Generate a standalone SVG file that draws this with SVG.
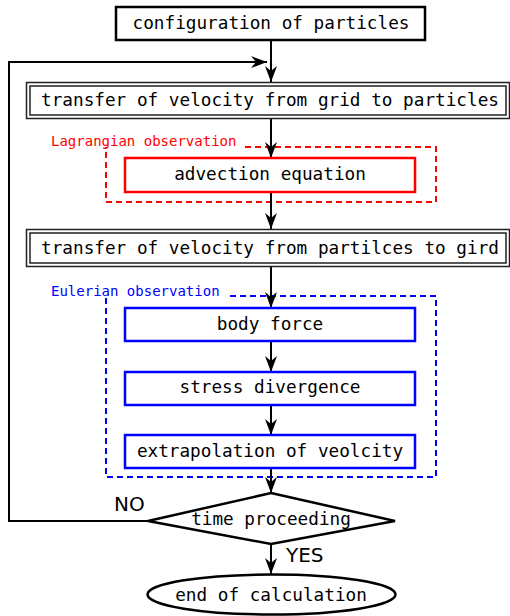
<svg xmlns="http://www.w3.org/2000/svg" width="510" height="616" viewBox="0 0 510 616">
<style>
text{font-family:"DejaVu Sans Mono","Liberation Mono",monospace;fill:#000;text-anchor:middle}
.t{font-size:17.7px}
.lbl{font-size:14px;text-anchor:start}
.yn{font-size:20px;text-anchor:start;font-family:"DejaVu Sans","Liberation Sans",sans-serif}
.conn{fill:none;stroke:#000;stroke-width:2}
.blk{fill:#fff;stroke:#000;stroke-width:2.5}
.dbl{fill:#fff;stroke:#222;stroke-width:1.5}
.red{fill:#fff;stroke:#f00;stroke-width:2.5}
.blue{fill:#fff;stroke:#00f;stroke-width:2.5}
.dash{fill:none;stroke-width:2;stroke-dasharray:6,4}
</style>
<defs>
<marker id="ar" viewBox="0 0 16 12" refX="16" refY="6" markerWidth="16" markerHeight="12" markerUnits="userSpaceOnUse" orient="auto">
<path d="M0,0 L16,6 L0,12 L5,6 z" fill="#000"/>
</marker>
</defs>
<g id="groups">
<path class="dash" stroke="#f00" d="M245,147 H436 V202 H106 V147"/>
<text class="lbl" x="51" y="146" style="fill:#f00">Lagrangian observation</text>
<path class="dash" stroke="#00f" d="M230,296 H436 V477 H106 V296"/>
<text class="lbl" x="51" y="296" style="fill:#00f">Eulerian observation</text>
</g>
<g id="connectors">
<line class="conn" x1="271" y1="40" x2="271" y2="82" marker-end="url(#ar)"/>
<polyline class="conn" points="148,521 9,521 9,62 267,62" marker-end="url(#ar)"/>
<line class="conn" x1="271" y1="118" x2="271" y2="158" marker-end="url(#ar)"/>
<line class="conn" x1="271" y1="192" x2="271" y2="229" marker-end="url(#ar)"/>
<line class="conn" x1="271" y1="267" x2="271" y2="308" marker-end="url(#ar)"/>
<line class="conn" x1="271" y1="341" x2="271" y2="372" marker-end="url(#ar)"/>
<line class="conn" x1="271" y1="405" x2="271" y2="435" marker-end="url(#ar)"/>
<line class="conn" x1="271" y1="468" x2="271" y2="493" marker-end="url(#ar)"/>
<line class="conn" x1="271" y1="544" x2="271" y2="574" marker-end="url(#ar)"/>
<text class="yn" x="114" y="511">NO</text>
<text class="yn" x="286" y="562">YES</text>
</g>
<g id="config">
<rect class="blk" x="116" y="7" width="309" height="33"/>
<text class="t" x="271" y="29">configuration of particles</text>
</g>
<g id="g2p">
<rect class="dbl" x="26.5" y="82.5" width="483" height="36"/>
<rect class="dbl" x="30" y="86" width="476" height="29" stroke="#000"/>
<text class="t" x="270" y="106">transfer of velocity from grid to particles</text>
</g>
<g id="advection">
<rect class="red" x="125" y="158" width="290" height="34"/>
<text class="t" x="270" y="180">advection equation</text>
</g>
<g id="p2g">
<rect class="dbl" x="26.5" y="229.5" width="483" height="37"/>
<rect class="dbl" x="30" y="233" width="476" height="30" stroke="#000"/>
<text class="t" x="270" y="254">transfer of velocity from partilces to gird</text>
</g>
<g id="body">
<rect class="blue" x="125" y="308" width="290" height="33"/>
<text class="t" x="270" y="330">body force</text>
</g>
<g id="stress">
<rect class="blue" x="125" y="372" width="290" height="33"/>
<text class="t" x="270" y="393">stress divergence</text>
</g>
<g id="extrap">
<rect class="blue" x="125" y="435" width="290" height="33"/>
<text class="t" x="270" y="457">extrapolation of veolcity</text>
</g>
<g id="time">
<polygon class="blk" points="271,493 395,521 271,544 148,521"/>
<text class="t" x="271" y="525">time proceeding</text>
</g>
<g id="end">
<ellipse class="blk" cx="271.5" cy="594.5" rx="124" ry="20"/>
<text class="t" x="271" y="601">end of calculation</text>
</g>
</svg>
